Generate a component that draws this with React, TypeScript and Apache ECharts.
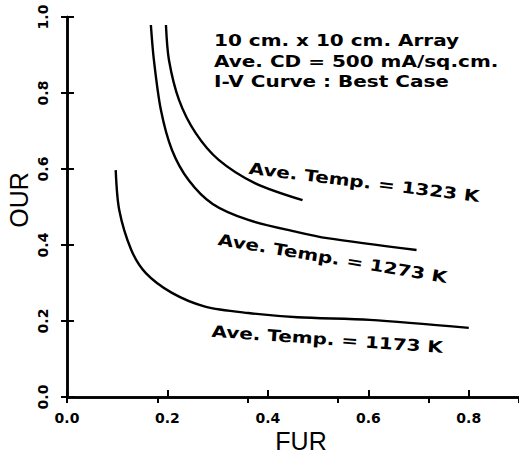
import React, { useEffect, useRef } from "react";
import * as echarts from "echarts";

// FUR (x) and OUR (y)
const fur1323 = [0.197, 0.203, 0.223, 0.256, 0.302, 0.374, 0.469];
const our1323 = [0.979, 0.887, 0.782, 0.695, 0.624, 0.563, 0.518];

const fur1273 = [0.167, 0.173, 0.187, 0.209, 0.242, 0.29, 0.361, 0.459, 0.518, 0.696];
const our1273 = [0.979, 0.887, 0.755, 0.65, 0.571, 0.508, 0.466, 0.434, 0.418, 0.387];

const fur1173 = [0.097, 0.104, 0.128, 0.157, 0.209, 0.275, 0.361, 0.459, 0.603, 0.8];
const our1173 = [0.597, 0.492, 0.387, 0.326, 0.274, 0.238, 0.221, 0.21, 0.203, 0.182];

const curveLabels = [
  "Ave. Temp. = 1323 K",
  "Ave. Temp. = 1273 K",
  "Ave. Temp. = 1173 K",
];
const noteLines = [
  "10 cm. x 10 cm. Array",
  "Ave. CD = 500 mA/sq.cm.",
  "I-V Curve : Best Case",
];
const xName = "FUR";
const yName = "OUR";

const zip = (xs: number[], ys: number[]) => xs.map((x, i) => [x, ys[i]]);

const TEXT_FONT = 'bold 16px "DejaVu Sans"';

export default function App() {
  const ref = useRef<HTMLDivElement>(null);
  useEffect(() => {
    if (!ref.current) return;
    const chart = echarts.init(ref.current, undefined, { renderer: "svg" });
    const lineStyle = { color: "#000", width: 2.4 };
    const mkSeries = (name: string, xs: number[], ys: number[]) => ({
      type: "line",
      name,
      data: zip(xs, ys),
      smooth: 0.3,
      showSymbol: false,
      lineStyle,
      xAxisIndex: 0,
      yAxisIndex: 0,
    });
    const label = (text: string, x: number, y: number, rotDeg: number) => ({
      type: "text",
      x,
      y,
      rotation: (rotDeg * Math.PI) / 180,
      scaleX: 1.25,
      style: {
        text,
        font: TEXT_FONT,
        fill: "#000",
        textAlign: "left",
        textVerticalAlign: "bottom",
      },
    });
    chart.setOption({
      animation: false,
      backgroundColor: "#fff",
      grid: { left: 67, top: 17, width: 457, height: 380 },
      xAxis: [
        {
          type: "value",
          position: "bottom",
          min: 0,
          max: 0.9,
          interval: 0.2,
          axisLine: { lineStyle: { color: "#000", width: 2.5 } },
          axisTick: { inside: true, length: 7, lineStyle: { color: "#000", width: 2 } },
          splitLine: { show: false },
          axisLabel: {
            showMaxLabel: false,
            margin: 14,
            color: "#000",
            fontFamily: "DejaVu Sans",
            fontWeight: "bold",
            fontSize: 14,
            formatter: (v: number) => v.toFixed(1),
          },
        },
        {
          type: "value",
          position: "top",
          min: 0,
          max: 1,
          interval: 0.2,
          axisLine: { show: true, lineStyle: { color: "#000", width: 2.5 } },
          axisTick: { show: true, inside: true, length: 6, lineStyle: { color: "#000", width: 2 } },
          axisLabel: { show: false },
          splitLine: { show: false },
        },
      ],
      yAxis: [
        {
          type: "value",
          position: "left",
          min: 0,
          max: 1,
          interval: 0.2,
          axisLine: { show: true, lineStyle: { color: "#000", width: 2.5 } },
          axisTick: { show: true, inside: true, length: 7, lineStyle: { color: "#000", width: 2 } },
          splitLine: { show: false },
          axisLabel: {
            rotate: 90,
            margin: 17,
            color: "#000",
            fontFamily: "DejaVu Sans",
            fontWeight: "bold",
            fontSize: 14,
            formatter: (v: number) => v.toFixed(1),
          },
        },
        {
          type: "value",
          position: "right",
          min: 0,
          max: 1,
          interval: 0.2,
          axisLine: { show: true, lineStyle: { color: "#000", width: 2.5 } },
          axisTick: { show: true, inside: true, length: 6, lineStyle: { color: "#000", width: 2 } },
          axisLabel: { show: false },
          splitLine: { show: false },
        },
      ],
      series: [
        mkSeries("1323 K", fur1323, our1323),
        mkSeries("1273 K", fur1273, our1273),
        mkSeries("1173 K", fur1173, our1173),
      ],
      graphic: [
        label(noteLines[0], 214, 48, 0),
        label(noteLines[1], 214, 69, 0),
        label(noteLines[2], 214, 89, 0),
        label(curveLabels[0], 248, 176, -7),
        label(curveLabels[1], 217, 247, -9.5),
        label(curveLabels[2], 211, 339, -4),
        {
          type: "text",
          x: 301,
          y: 441,
          style: {
            text: xName,
            font: '25px "Liberation Sans"',
            fill: "#000",
            textAlign: "center",
            textVerticalAlign: "middle",
          },
        },
        {
          type: "text",
          x: 19,
          y: 200,
          rotation: Math.PI / 2,
          style: {
            text: yName,
            font: '25px "Liberation Sans"',
            fill: "#000",
            textAlign: "center",
            textVerticalAlign: "middle",
          },
        },
      ],
    });
    return () => chart.dispose();
  }, []);
  return (
    <div
      ref={ref}
      style={{ position: "fixed", left: 0, top: 0, width: 519, height: 457 }}
    />
  );
}
